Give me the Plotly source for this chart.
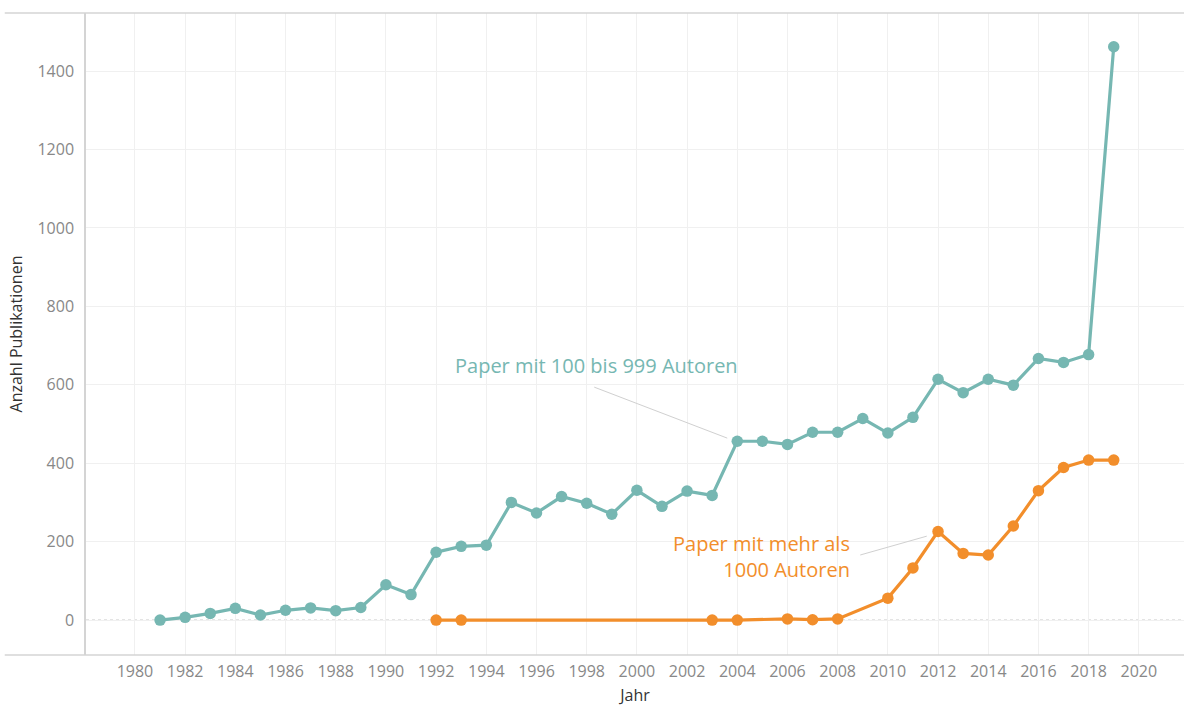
import plotly.graph_objects as go

# Data
years_mid = [1981, 1982, 1983, 1984, 1985, 1986, 1987, 1988, 1989, 1990,
             1991, 1992, 1993, 1994, 1995, 1996, 1997, 1998, 1999, 2000,
             2001, 2002, 2003, 2004, 2005, 2006, 2007, 2008, 2009, 2010,
             2011, 2012, 2013, 2014, 2015, 2016, 2017, 2018, 2019]
values_mid = [0, 7, 17, 30, 13, 25, 31, 24, 32, 90,
              65, 173, 188, 191, 300, 273, 315, 298, 270, 331,
              290, 329, 318, 456, 456, 448, 479, 479, 514, 477,
              517, 614, 580, 614, 599, 667, 657, 677, 1462]

years_big = [1992, 1993, 2003, 2004, 2006, 2007, 2008, 2010, 2011, 2012,
             2013, 2014, 2015, 2016, 2017, 2018, 2019]
values_big = [0, 0, 0, 0, 3, 1, 3, 56, 133, 226,
              170, 166, 240, 330, 389, 408, 408]

x_ticks = list(range(1980, 2021, 2))
y_ticks = [0, 200, 400, 600, 800, 1000, 1200, 1400]

TEAL = "#76b7b2"
ORANGE = "#f28e2b"
FONT = "Open Sans, Noto Sans, sans-serif"

fig = go.Figure()
fig.add_trace(go.Scatter(x=years_mid, y=values_mid, mode="lines+markers",
                         line=dict(color=TEAL, width=3.2),
                         marker=dict(color=TEAL, size=11.5),
                         name="Paper mit 100 bis 999 Autoren"))
fig.add_trace(go.Scatter(x=years_big, y=values_big, mode="lines+markers",
                         line=dict(color=ORANGE, width=3.2),
                         marker=dict(color=ORANGE, size=11.5),
                         name="Paper mit mehr als 1000 Autoren"))

# frame lines / zero line
fig.add_shape(type="line", xref="paper", yref="y", x0=0, x1=1, y0=0, y1=0,
              line=dict(color="#bdbdbd", width=1, dash="dot"), layer="below")
fig.add_shape(type="line", xref="paper", yref="paper", x0=-0.074, x1=1, y0=1, y1=1,
              line=dict(color="#d4d4d4", width=1.5))
fig.add_shape(type="line", xref="paper", yref="paper", x0=-0.074, x1=1, y0=0, y1=0,
              line=dict(color="#d4d4d4", width=1.5))

# annotation connectors
fig.add_shape(type="line", xref="x", yref="y", x0=1998.3, y0=594, x1=2003.6, y1=464,
              line=dict(color="#d0d0d0", width=1))
fig.add_shape(type="line", xref="x", yref="y", x0=2008.9, y0=166, x1=2011.55, y1=214,
              line=dict(color="#d0d0d0", width=1))

fig.add_annotation(x=1998.41, y=650, xref="x", yref="y", text="Paper mit 100 bis 999 Autoren",
                   showarrow=False, font=dict(family=FONT, size=20, color=TEAL))
fig.add_annotation(x=2008.57, y=162, xref="x", yref="y",
                   text="Paper mit mehr als<br>1000 Autoren", align="right",
                   xanchor="right", yanchor="middle", showarrow=False,
                   font=dict(family=FONT, size=20, color=ORANGE))

fig.update_layout(
    width=1184, height=709,
    margin=dict(l=86, r=0, t=13, b=54),
    paper_bgcolor="white", plot_bgcolor="white",
    showlegend=False,
    font=dict(family=FONT, color="#888888"),
    xaxis=dict(range=[1978.05, 2021.8], tickvals=x_ticks, showgrid=True,
               gridcolor="#f0f0f0", gridwidth=1, zeroline=False, showline=False,
               ticks="outside", ticklen=2, tickcolor="rgba(0,0,0,0)",
               automargin=False,
               tickfont=dict(family=FONT, size=16, color="#888888"),
               title=dict(text="Jahr", standoff=8,
                          font=dict(family=FONT, size=16, color="#333333"))),
    yaxis=dict(range=[-89, 1548], tickvals=y_ticks, showgrid=True,
               gridcolor="#f0f0f0", gridwidth=1, zeroline=False,
               showline=True, linecolor="#d4d4d4", linewidth=1.5,
               ticks="outside", ticklen=7, tickcolor="rgba(0,0,0,0)",
               automargin=False,
               tickfont=dict(family=FONT, size=16, color="#888888"),
               title=dict(text="Anzahl Publikationen", standoff=11,
                          font=dict(family=FONT, size=16, color="#333333"))),
)

fig.write_html("out.html", config={"displayModeBar": False},
               post_script="document.body.style.margin='0';")
